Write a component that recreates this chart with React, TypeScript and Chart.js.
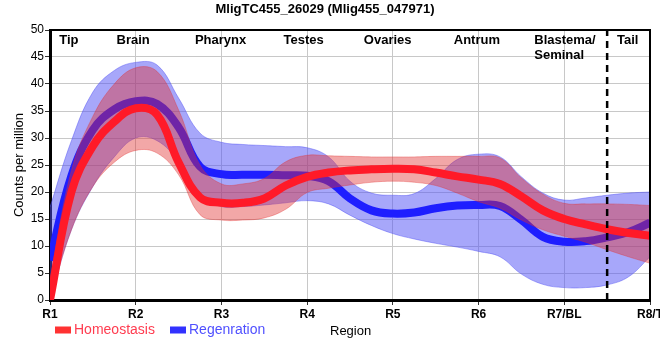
import { useEffect, useRef } from "react";
import { Chart, registerables } from "chart.js";

Chart.register(...registerables);

const FONT = "'Liberation Sans', Arial, sans-serif";

const chartTitle = "MligTC455_26029 (Mlig455_047971)";
const regionTicks = ["R1", "R2", "R3", "R4", "R5", "R6", "R7/BL", "R8/T"];

// sample positions along the body axis (1 = R1 ... 8 = R8/T)
const xs = [1, 1.25, 1.5, 1.75, 2, 2.25, 2.5, 2.75, 3, 3.25, 3.5, 3.75, 4, 4.25, 4.5, 4.75, 5, 5.25, 5.5, 5.75, 6, 6.25, 6.5, 6.75, 7, 7.25, 7.5, 7.75, 8];

const homeostasis = [0, 20, 28.5, 33, 35.5, 34.3, 25.5, 19.0, 18.0, 18.0, 18.8, 21.2, 22.8, 23.6, 24.0, 24.2, 24.3, 24.2, 23.6, 22.9, 22.3, 21.5, 19.2, 16.6, 15.0, 14.0, 13.1, 12.4, 11.9];
const homeostasisUpper = [4, 24, 34, 40, 43, 42.3, 35.2, 25.0, 21.5, 21.5, 22.5, 25.6, 26.8, 26.7, 26.6, 26.5, 26.5, 26.5, 26.6, 26.6, 26.6, 26.3, 22.6, 19.6, 17.9, 17.8, 17.8, 17.7, 17.5];
const homeostasisLower = [0, 13, 21, 25.5, 27.7, 27.2, 23.2, 15.8, 14.8, 14.8, 15.2, 16.8, 19.9, 20.7, 21.3, 21.8, 22.0, 21.8, 21.2, 19.8, 18.2, 17.0, 14.8, 13.0, 11.8, 10.7, 9.3, 8.0, 6.8];

const regeneration = [7.3, 23, 31.5, 35.3, 36.8, 36.3, 32, 24.7, 23.3, 23.2, 23.2, 23.1, 23.0, 22.0, 18.8, 16.6, 16.0, 16.2, 17.0, 17.5, 17.6, 17.4, 14.8, 11.7, 10.8, 10.9, 11.6, 12.6, 14.3];
const regenerationUpper = [17.2, 29.5, 38.5, 42.5, 44, 43.5, 37.4, 30.9, 29.2, 28.8, 28.6, 28.4, 28.2, 26.5, 22, 19.8, 19.4, 19.7, 22.5, 26, 27, 26.5, 22.8, 19.8, 18.5, 18.9, 19.4, 19.8, 20.0];
const regenerationLower = [0, 13, 21, 26.5, 30, 29.5, 25.6, 19.4, 17.3, 17.3, 17.6, 18.0, 18.4, 17.8, 15.7, 13.8, 12.3, 11.3, 10.5, 9.8, 9.0, 8.0, 4.8, 2.9, 2.3, 2.3, 2.8, 4.3, 8.0];

const tissueNames = ["Tip", "Brain", "Pharynx", "Testes", "Ovaries", "Antrum", "Blastema/\nSeminal", "Tail"];
const tissuePos = [1.22, 1.97, 2.99, 3.96, 4.94, 5.98, 6.65, 7.74];
const tissueAlign: CanvasTextAlign[] = ["center", "center", "center", "center", "center", "center", "left", "center"];

const tailBoundary = 7.5;

const seriesNames = ["Homeostasis", "Regenration"];
const xTitle = "Region";
const yTitle = "Counts per million";

const RED = "rgb(255,26,40)";
const BLUE = "rgb(30,30,255)";
const RED_BAND = "rgba(225,45,45,0.42)";
const BLUE_BAND = "rgba(80,80,245,0.5)";

const pts = (arr: number[]) => xs.map((x, i) => ({ x, y: arr[i] }));

const decor = {
  id: "decor",
  afterDraw(chart: any) {
    const { ctx, chartArea: a, scales } = chart;
    const x = scales.x;
    ctx.save();
    // top and right frame
    ctx.strokeStyle = "#000";
    ctx.lineWidth = 2;
    ctx.beginPath();
    ctx.moveTo(a.left, a.top);
    ctx.lineTo(a.right, a.top);
    ctx.lineTo(a.right, a.bottom);
    ctx.stroke();

    // tissue labels
    ctx.font = `bold 13px ${FONT}`;
    ctx.fillStyle = "#000";
    ctx.textBaseline = "middle";
    tissueNames.forEach((name, i) => {
      ctx.textAlign = tissueAlign[i];
      const px = x.getPixelForValue(tissuePos[i]);
      name.split("\n").forEach((ln, j) => ctx.fillText(ln, px, a.top + 10 + j * 15));
    });

    // legend
    const ly = a.bottom + 30;
    const items = [
      { text: seriesNames[0], box: "rgb(255,50,50)", color: "rgb(255,60,80)", bx: a.left + 5 },
      { text: seriesNames[1], box: "rgb(50,50,255)", color: "rgb(80,80,255)", bx: a.left + 120 },
    ];
    ctx.font = `14px ${FONT}`;
    ctx.textAlign = "left";
    items.forEach((it) => {
      ctx.fillStyle = it.box;
      ctx.fillRect(it.bx, ly - 3.5, 16, 7);
      ctx.fillStyle = it.color;
      ctx.fillText(it.text, it.bx + 19, ly);
    });

    // x-axis title on the legend row
    ctx.font = `13px ${FONT}`;
    ctx.fillStyle = "#000";
    ctx.textAlign = "left";
    ctx.fillText(xTitle, (a.left + a.right) / 2 - 20, ly + 1);
    ctx.restore();
  },
};

export default function App() {
  const ref = useRef<HTMLCanvasElement>(null);

  useEffect(() => {
    document.body.style.margin = "0";
    const canvas = ref.current;
    if (!canvas) return;
    Chart.defaults.font.family = FONT;
    const lineCommon = {
      pointRadius: 0,
      pointHoverRadius: 0,
      tension: 0.4,
    };
    const chart = new Chart(canvas, {
      type: "line",
      data: {
        datasets: [
          {
            label: "boundary",
            data: [
              { x: tailBoundary, y: 0 },
              { x: tailBoundary, y: 50 },
            ],
            borderColor: "#000",
            borderWidth: 2.5,
            borderDash: [7, 5],
            pointRadius: 0,
            fill: false,
          },
          { label: seriesNames[0], data: pts(homeostasis), borderColor: RED, borderWidth: 8, fill: false, ...lineCommon },
          { label: "hUpper", data: pts(homeostasisUpper), borderColor: "rgba(225,45,45,0.35)", borderWidth: 1, backgroundColor: RED_BAND, fill: 3, ...lineCommon },
          { label: "hLower", data: pts(homeostasisLower), borderColor: "rgba(225,45,45,0.35)", borderWidth: 1, fill: false, ...lineCommon },
          { label: seriesNames[1], data: pts(regeneration), borderColor: BLUE, borderWidth: 8, fill: false, ...lineCommon },
          { label: "rUpper", data: pts(regenerationUpper), borderColor: "rgba(80,80,245,0.45)", borderWidth: 1, backgroundColor: BLUE_BAND, fill: 6, ...lineCommon },
          { label: "rLower", data: pts(regenerationLower), borderColor: "rgba(80,80,245,0.45)", borderWidth: 1, fill: false, ...lineCommon },
        ],
      },
      options: {
        responsive: false,
        animation: false,
        events: [],
        layout: { padding: { left: 0, right: 10, top: 0, bottom: 0 } },
        plugins: {
          legend: { display: false },
          tooltip: { enabled: false },
          title: {
            display: true,
            text: chartTitle,
            color: "#000",
            font: { family: FONT, size: 13, weight: "bold" },
            padding: { top: 2, bottom: 12.4 },
          },
        },
        scales: {
          x: {
            type: "linear",
            min: 1,
            max: 8,
            afterFit: (s: any) => {
              s.height = 60;
              s.paddingRight = 0;
            },
            ticks: {
              stepSize: 1,
              autoSkip: false,
              maxRotation: 0,
              padding: 2,
              color: "#000",
              font: { family: FONT, size: 12, weight: "bold" },
              callback: (v: any) => regionTicks[Math.round(Number(v)) - 1] ?? "",
            },
            grid: { color: "#c8c8c8", lineWidth: 1, tickLength: 5, tickColor: "#333" },
            border: { color: "#000", width: 3 },
          },
          y: {
            min: 0,
            max: 50,
            afterFit: (s: any) => {
              s.width = 50;
            },
            ticks: {
              stepSize: 5,
              padding: 1,
              color: "#000",
              font: { family: FONT, size: 12 },
            },
            title: {
              display: true,
              text: yTitle,
              color: "#000",
              font: { family: FONT, size: 13 },
              padding: { top: 12, bottom: 0 },
            },
            grid: { color: "#c8c8c8", lineWidth: 1, tickLength: 5, tickColor: "#333" },
            border: { color: "#000", width: 3 },
          },
        },
      },
      plugins: [decor],
    });
    return () => chart.destroy();
  }, []);

  return (
    <div style={{ width: 660, height: 360 }}>
      <canvas ref={ref} width={660} height={360} style={{ display: "block" }} />
    </div>
  );
}
